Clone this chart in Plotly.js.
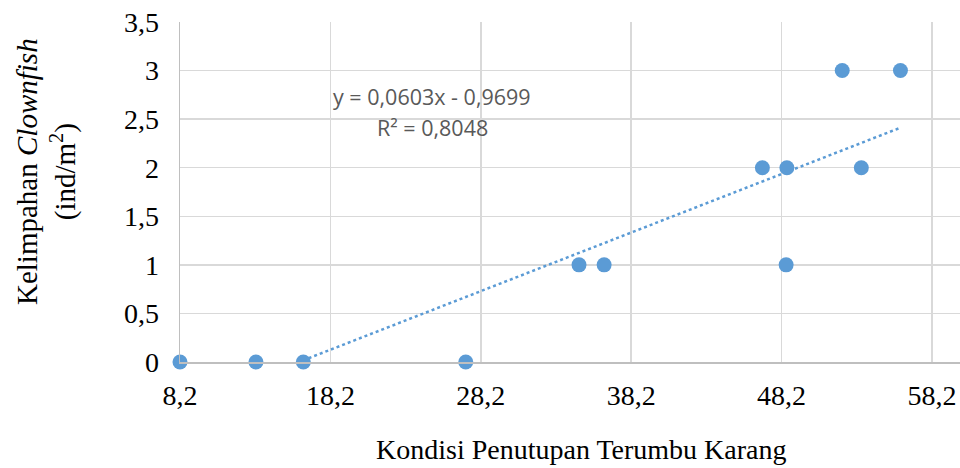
<!DOCTYPE html>
<html>
<head>
<meta charset="utf-8">
<script src="https://cdn.plot.ly/plotly-3.0.1.min.js"></script>
<style>html,body{margin:0;padding:0;background:#fff;}#chart{width:960px;height:468px;}</style>
</head>
<body>
<div id="chart"></div>
<script>
// Kondisi penutupan terumbu karang (x) vs kelimpahan clownfish (y)
const coverX = [8.2, 13.25, 16.4, 27.2, 34.73, 36.4, 46.92, 48.55, 48.5, 52.23, 53.5, 56.1];
const abundanceY = [0, 0, 0, 0, 1, 1, 2, 2, 1, 3, 2, 3];
const equationText = "y = 0,0603x - 0,9699";
const r2Text = "R² = 0,8048";
const xTitle = "Kondisi Penutupan Terumbu Karang";
const yTitle = "Kelimpahan <i>Clownfish</i><br>(ind/m<sup>2</sup>)";

// linear least squares trendline from the data
const n = coverX.length;
const mx = coverX.reduce((a, b) => a + b, 0) / n;
const my = abundanceY.reduce((a, b) => a + b, 0) / n;
let sxy = 0, sxx = 0;
for (let i = 0; i < n; i++) { sxy += (coverX[i] - mx) * (abundanceY[i] - my); sxx += (coverX[i] - mx) ** 2; }
const slope = sxy / sxx, intercept = my - slope * mx;
const xmin = Math.min(...coverX), xmax = Math.max(...coverX);
const trendX = [], trendY = [];
for (let k = 0; k <= 200; k++) { const x = xmin + (xmax - xmin) * k / 200; trendX.push(x); trendY.push(slope * x + intercept); }

const blue = "#5B9BD5";
const data = [
  { x: trendX, y: trendY, mode: "lines", type: "scatter", line: { color: blue, width: 2.5, dash: "dot" }, hoverinfo: "skip", showlegend: false },
  { x: coverX, y: abundanceY, mode: "markers", type: "scatter", marker: { color: blue, size: 15 }, cliponaxis: false, showlegend: false }
];

const serif = "Liberation Serif, Times New Roman, serif";
const tickFont = { family: serif, size: 28, color: "#000" };
const titleFont = { family: serif, size: 28, color: "#000" };
const yTitleFont = { family: serif, size: 29, color: "#000" };
const eqFont = { family: "Open Sans, sans-serif", size: 21.5, color: "#595959" };
const L = 180, W = 780, T = 22, H = 340;
const layout = {
  width: 960, height: 468,
  margin: { l: L, r: 0, t: T, b: 106 },
  paper_bgcolor: "#fff", plot_bgcolor: "#fff",
  separators: ", ",
  showlegend: false,
  xaxis: {
    range: [8.2, 60.06], tick0: 8.2, dtick: 10, tickformat: ".1f",
    showgrid: true, gridcolor: "#D9D9D9", gridwidth: 1.5,
    zeroline: false, showline: true, linecolor: "#BFBFBF", linewidth: 1.5,
    ticks: "", tickfont: tickFont, ticklabelstandoff: 8
  },
  yaxis: {
    range: [0, 3.5], dtick: 0.5,
    showgrid: true, gridcolor: "#D9D9D9", gridwidth: 1.5,
    zeroline: false, showline: true, linecolor: "#BFBFBF", linewidth: 1.5,
    ticks: "", tickfont: tickFont, ticklabelstandoff: 14
  },
  annotations: [
    { xref: "paper", yref: "paper", x: (432 - L) / W, y: (362 - 96) / H, text: equationText, showarrow: false, xanchor: "center", yanchor: "middle", font: eqFont },
    { xref: "paper", yref: "paper", x: (432 - L) / W, y: (362 - 127) / H, text: r2Text, showarrow: false, xanchor: "center", yanchor: "middle", font: eqFont },
    { xref: "paper", yref: "paper", x: (581 - L) / W, y: (362 - 449) / H, text: xTitle, showarrow: false, xanchor: "center", yanchor: "middle", font: titleFont },
    { xref: "paper", yref: "paper", x: (46 - L) / W, y: (362 - 172) / H, text: yTitle, showarrow: false, textangle: -90, xanchor: "center", yanchor: "middle", font: yTitleFont }
  ]
};

Plotly.newPlot("chart", data, layout, { displayModeBar: false, staticPlot: true });
</script>
</body>
</html>
